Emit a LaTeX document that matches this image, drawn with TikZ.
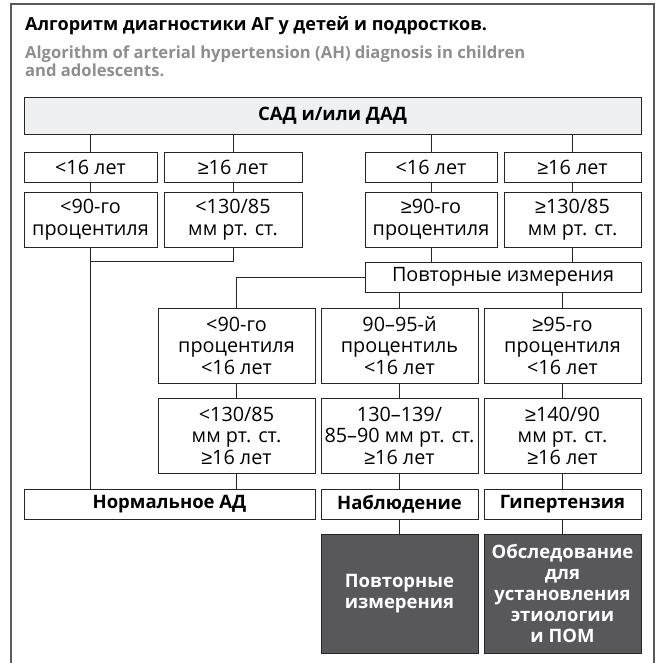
\documentclass[tikz,border=0pt]{standalone}
\usepackage{fontspec}
\setmainfont{Open Sans}
\newfontfamily\symfont{Liberation Sans}
\newcommand{\agegeq}{{\symfont ≥}}
\usetikzlibrary{calc}
\definecolor{framegray}{HTML}{5A5A5C}
\definecolor{subgray}{HTML}{8E8E8E}
\definecolor{topfill}{HTML}{EFF0F2}
\definecolor{darkfill}{HTML}{58585A}
\tikzset{
	cell/.style={draw=black!85, line width=0.9pt, inner sep=0pt, align=center, font=\fontsize{19.8}{21.5}\selectfont},
	cellbold/.style={cell, font=\fontsize{18.5}{21.5}\selectfont\bfseries},
	darkcell/.style={cell, fill=darkfill, text=white, font=\fontsize{18.5}{20.8}\selectfont\bfseries},
	link/.style={draw=black!85, line width=0.9pt},
	headline/.style={anchor=base west, inner sep=0pt, font=\fontsize{18}{18.5}\selectfont\bfseries}
}

\begin{document}
\begin{tikzpicture}[x=1pt, y=-1pt]
			%%%%% START %%%%%
			\useasboundingbox (0, 0) rectangle (659, 663);
			\draw[line width=1.4pt, color=framegray] (11, 663) -- (11, 4) -- (654, 4) -- (654, 663);
			
			\node[headline] (title) at (25, 31) {Алгоритм диагностики АГ у детей и подростков.};
			\node[headline, text=subgray, font=\fontsize{16.6}{18.5}\selectfont\bfseries] (subA) at (25, 59) {Algorithm of arterial hypertension (AH) diagnosis in children};
			\node[headline, text=subgray, font=\fontsize{16.6}{18.5}\selectfont\bfseries] (subB) at (25, 77) {and adolescents.};
			
			\node[cellbold, fill=topfill, minimum width=617, minimum height=37] (bp) at (332.5, 115.5) {САД и/или ДАД};
			
			\node[cell, minimum width=133, minimum height=30] (ageA) at (90.5, 167) {<16 лет};
			\node[cell, minimum width=138, minimum height=30] (ageB) at (233, 167) {\agegeq16 лет};
			\node[cell, minimum width=132, minimum height=30] (ageC) at (431, 167) {<16 лет};
			\node[cell, minimum width=137, minimum height=30] (ageD) at (572.5, 167) {\agegeq16 лет};
			
			\node[cell, minimum width=133, minimum height=55] (lvlA) at (90.5, 219.5) {<90-го\\процентиля};
			\node[cell, minimum width=138, minimum height=55] (lvlB) at (233, 219.5) {<130/85\\мм рт. ст.};
			\node[cell, minimum width=132, minimum height=55] (lvlC) at (431, 219.5) {\agegeq90-го\\процентиля};
			\node[cell, minimum width=137, minimum height=55] (lvlD) at (572.5, 219.5) {\agegeq130/85\\мм рт. ст.};
			
			\node[cell, minimum width=276, minimum height=30] (rep) at (503, 277) {Повторные измерения};
			
			\node[cell, minimum width=157, minimum height=75] (pctA) at (236.5, 345.5) {<90-го\\процентиля\\<16 лет};
			\node[cell, minimum width=157, minimum height=75] (pctB) at (399.5, 345.5) {90–95-й\\процентиль\\<16 лет};
			\node[cell, minimum width=157, minimum height=75] (pctC) at (562.5, 345.5) {\agegeq95-го\\процентиля\\<16 лет};
			
			\node[cell, minimum width=157, minimum height=75] (mmA) at (236.5, 435.5) {<130/85\\мм рт. ст.\\\agegeq16 лет};
			\node[cell, minimum width=157, minimum height=75] (mmB) at (399.5, 435.5) {130–139/\\85–90 мм рт. ст.\\\agegeq16 лет};
			\node[cell, minimum width=157, minimum height=75] (mmC) at (562.5, 435.5) {\agegeq140/90\\мм рт. ст.\\\agegeq16 лет};
			
			\node[cellbold, minimum width=291, minimum height=30] (norm) at (169.5, 504) {Нормальное АД};
			\node[cellbold, minimum width=157, minimum height=30] (watch) at (399.5, 504) {Наблюдение};
			\node[cellbold, minimum width=157, minimum height=30] (hyp) at (562.5, 504) {Гипертензия};
			
			\node[darkcell, minimum width=157, minimum height=119] (again) at (399.5, 593.5) {Повторные\\измерения};
			\node[darkcell, minimum width=157, minimum height=119] (exam) at (562.5, 593.5) {Обследование\\для\\установления\\этиологии\\и ПОМ};
			
			% links
			\foreach \n in {ageA, ageB, ageC, ageD}
				\draw[link] (bp.south -| \n.north) -- (\n.north);
			\draw[link] (ageA) -- (lvlA);
			\draw[link] (ageB) -- (lvlB);
			\draw[link] (ageC) -- (lvlC);
			\draw[link] (ageD) -- (lvlD);
			\coordinate (join) at (lvlA.south |- rep.north);
			\draw[link] (lvlA.south) -- (join) -| (lvlB.south);
			\draw[link] (join) -- (join |- norm.north);
			\draw[link] (lvlC.south) -- (rep.north -| lvlC.south);
			\draw[link] (lvlD.south) -- (rep.north -| lvlD.south);
			\draw[link] (rep.west) -| (pctA.north);
			\draw[link] (rep.south -| pctB.north) -- (pctB.north);
			\draw[link] (rep.south -| pctC.north) -- (pctC.north);
			\draw[link] (pctA) -- (mmA);
			\draw[link] (pctB) -- (mmB);
			\draw[link] (pctC) -- (mmC);
			\draw[link] (mmA.south) -- (norm.north -| mmA.south);
			\draw[link] (mmB) -- (watch);
			\draw[link] (mmC) -- (hyp);
			\draw[link] (watch) -- (again);
			\draw[link] (hyp) -- (exam);
			%%%%% END %%%%%
		\end{tikzpicture}
\end{document}
